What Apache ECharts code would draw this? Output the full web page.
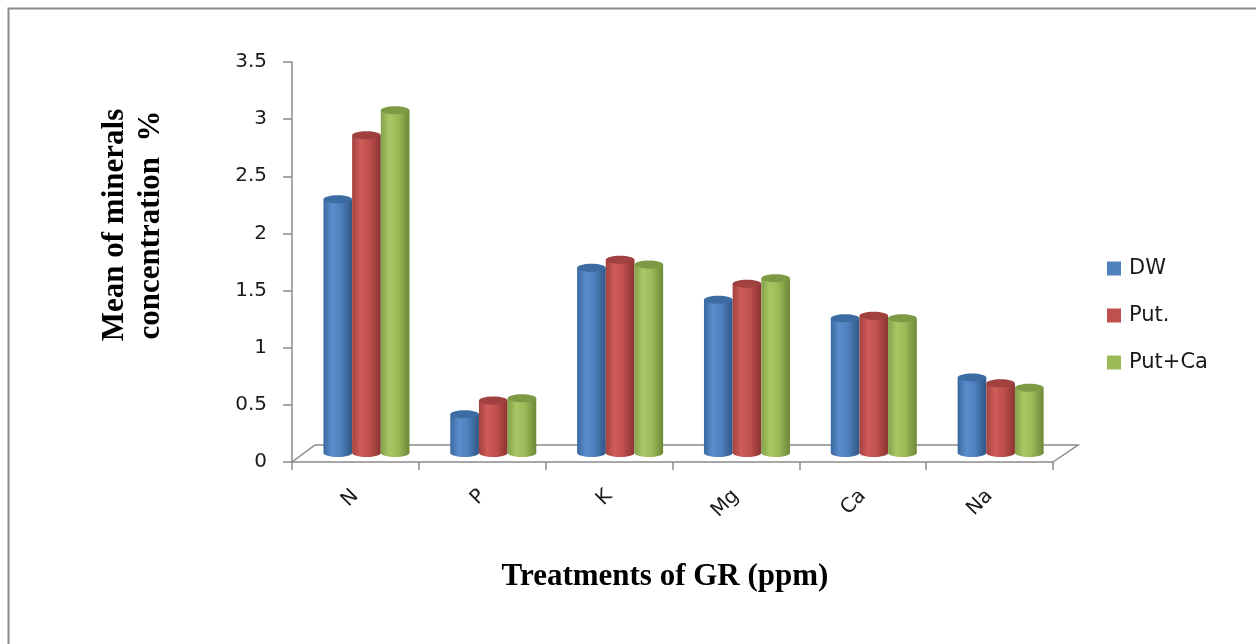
<!DOCTYPE html>
<html>
<head>
<meta charset="utf-8">
<script src="https://cdn.jsdelivr.net/npm/echarts@6/dist/echarts.min.js"></script>
<style>
html, body { margin: 0; padding: 0; background: #fff; }
#chart { width: 1256px; height: 644px; }
</style>
</head>
<body>
<div id="chart"></div>
<script>
// data
const categories = ['N', 'P', 'K', 'Mg', 'Ca', 'Na'];
const seriesNames = ['DW', 'Put.', 'Put+Ca'];
const dwValues = [2.22, 0.34, 1.62, 1.34, 1.18, 0.66];
const putValues = [2.78, 0.46, 1.69, 1.48, 1.20, 0.61];
const putCaValues = [3.00, 0.48, 1.65, 1.53, 1.18, 0.57];
const yTicks = { min: 0, max: 3.5, interval: 0.5 };

const shades = [
  { base: '#4F81BD', stops: ['#3A699F', '#5A8DCC', '#4F81BD', '#2F5685'], top: '#3D6CA3' },
  { base: '#C0504D', stops: ['#A4423F', '#CF5D59', '#C0504D', '#8A3331'], top: '#A04140' },
  { base: '#9BBB59', stops: ['#83A14A', '#A9C865', '#9BBB59', '#6C8736'], top: '#7D9A45' }
];

const axisGray = '#8a8a8a';
const font = 'DejaVu Sans';

function grad(stops) {
  return new echarts.graphic.LinearGradient(0, 0, 1, 0, [
    { offset: 0, color: stops[0] },
    { offset: 0.3, color: stops[1] },
    { offset: 0.6, color: stops[2] },
    { offset: 1, color: stops[3] }
  ]);
}

// cylinder, drawn from the axis scales
function cylinder(idx) {
  const s = shades[idx];
  return function (params, api) {
    const cat = api.value(0), v = api.value(1);
    const top = api.coord([cat, v]);
    const base = api.coord([cat, 0]);
    const bw = api.size([1, 0])[0];
    const w = bw * 0.226, rx = w / 2, ry = 4;
    const cx = top[0] + bw * 0.087 + (idx - 1) * w;
    const yTop = top[1] - 9, yBase = base[1] - 9;
    return {
      type: 'group',
      children: [
        { type: 'rect', shape: { x: cx - rx, y: yTop, width: w, height: yBase - yTop }, style: { fill: grad(s.stops) } },
        { type: 'ellipse', shape: { cx: cx, cy: yBase, rx: rx, ry: ry }, style: { fill: grad(s.stops) } },
        { type: 'ellipse', shape: { cx: cx, cy: yTop, rx: rx, ry: ry }, style: { fill: s.top } }
      ]
    };
  };
}

// 3d floor behind the bars
function floor(params, api) {
  const bw = api.size([1, 0])[0];
  const p0 = api.coord([0, 0]);
  const p5 = api.coord([categories.length - 1, 0]);
  const left = p0[0] - bw / 2, right = p5[0] + bw / 2, y = p0[1];
  return {
    type: 'polyline',
    shape: { points: [[left, y], [left + 23, y - 17], [right + 25, y - 17], [right, y]] },
    style: { stroke: axisGray, lineWidth: 1.5, fill: null }
  };
}

const chart = echarts.init(document.getElementById('chart'));
const allValues = [dwValues, putValues, putCaValues];

chart.setOption({
  backgroundColor: '#fff',
  animation: false,
  grid: { left: 292, right: 203, top: 62, bottom: 182 },
  legend: {
    data: seriesNames,
    orient: 'vertical',
    left: 1107,
    top: 258,
    padding: 0,
    itemWidth: 14,
    itemHeight: 14,
    itemGap: 26,
    icon: 'rect',
    textStyle: { fontFamily: font, fontSize: 21, color: '#1a1a1a', padding: [0, 0, 0, 3] }
  },
  xAxis: {
    type: 'category',
    data: categories,
    axisLine: { lineStyle: { color: axisGray, width: 1.5 } },
    axisTick: { show: true, alignWithLabel: false, interval: 0, length: 8, lineStyle: { color: axisGray, width: 1.5 } },
    axisLabel: { rotate: 45, margin: 31, fontFamily: font, fontSize: 20, color: '#1a1a1a' },
    splitLine: { show: false }
  },
  yAxis: {
    type: 'value',
    min: yTicks.min,
    max: yTicks.max,
    interval: yTicks.interval,
    axisLine: { show: true, lineStyle: { color: axisGray, width: 1.5 } },
    axisTick: { show: true, length: 9, lineStyle: { color: axisGray, width: 1.5 } },
    axisLabel: { margin: 25, fontFamily: font, fontSize: 20, color: '#1a1a1a' },
    splitLine: { show: false }
  },
  graphic: [
    { type: 'rect', shape: { x: 8.5, y: 8.5, width: 1400, height: 800 }, style: { fill: null, stroke: '#8c8c8c', lineWidth: 2 }, silent: true },
    {
      type: 'text', x: 133, y: 225, rotation: Math.PI / 2,
      style: {
        text: 'Mean of minerals\nconcentration  %', fontFamily: 'Liberation Serif', fontWeight: 'bold',
        fontSize: 31, lineHeight: 36, fill: '#000', align: 'center', verticalAlign: 'middle'
      }
    },
    {
      type: 'text', x: 665, y: 577,
      style: {
        text: 'Treatments of GR (ppm)', fontFamily: 'Liberation Serif', fontWeight: 'bold',
        fontSize: 31, fill: '#000', align: 'center', verticalAlign: 'middle'
      }
    }
  ],
  series: [
    { type: 'custom', name: 'floor', z: 1, renderItem: floor, data: [[0, 0]], encode: { x: 0, y: 1 }, silent: true }
  ].concat(seriesNames.map(function (name, i) {
    return {
      type: 'custom',
      name: name,
      z: 2,
      itemStyle: { color: shades[i].base },
      renderItem: cylinder(i),
      encode: { x: 0, y: 1 },
      data: allValues[i].map(function (v, j) { return [j, v]; })
    };
  }))
});
</script>
</body>
</html>
